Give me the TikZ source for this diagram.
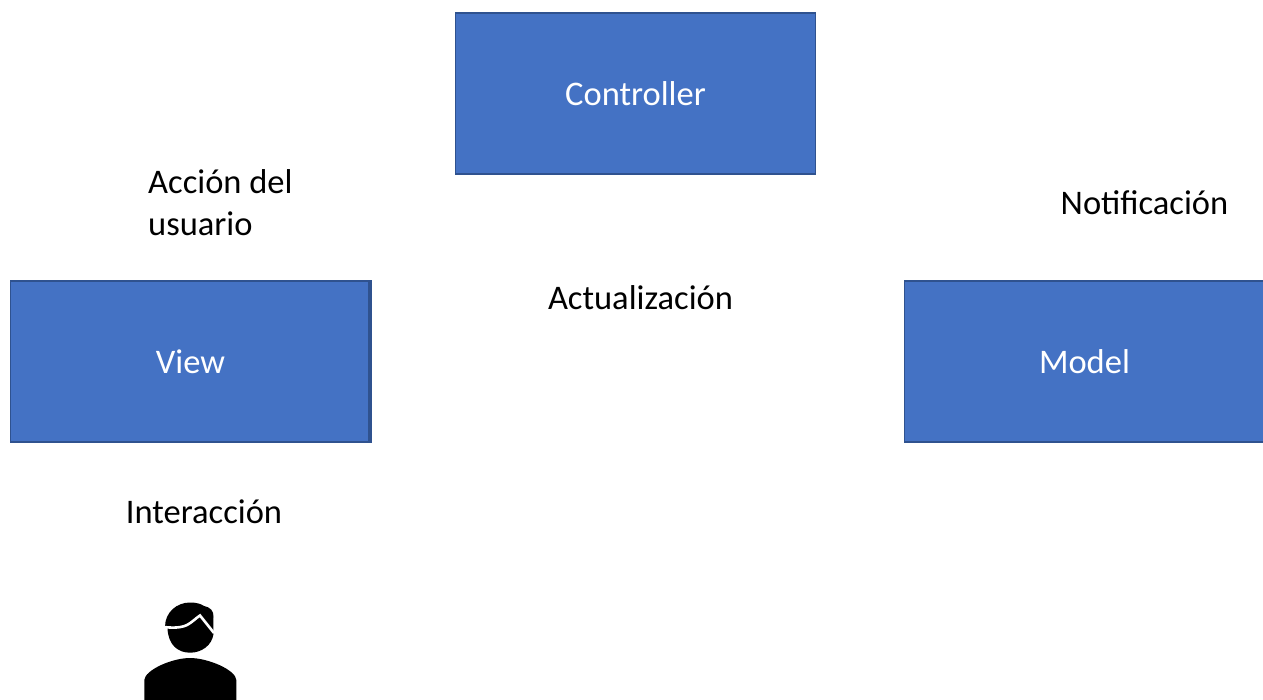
\documentclass[tikz,border=0pt]{standalone}
\usepackage{fontspec}
\setmainfont{Carlito}
\definecolor{boxfill}{HTML}{4472C4}
\definecolor{boxline}{HTML}{2F528F}
\tikzset{
  mvcbox/.style={draw=boxline, line width=1.3pt, fill=boxfill, text=white, minimum width=360pt, minimum height=161pt, inner sep=0pt, font=\fontsize{34.5}{42}\selectfont},
  lbl/.style={text=black, inner sep=0pt, font=\fontsize{34.5}{42}\selectfont, align=left}
}
\begin{document}
\begin{tikzpicture}[x=1pt,y=-1pt]
\useasboundingbox (0,0) rectangle (1263,700);
\clip (0,0) rectangle (1263,700);
\node[mvcbox] (controller) at (635.5,93.5) {\raisebox{-1pt}{Controller}};
\node[mvcbox] (view) at (190.5,361.5) {\raisebox{-1pt}{View}};
\node[mvcbox] (model) at (1084.5,361.5) {\raisebox{-1pt}{Model}};
\draw[boxline, line width=3.5pt] ([xshift=-1pt]view.north east) -- ([xshift=-1pt]view.south east);
\node[lbl, anchor=north west] (accion) at (148,169) {Acción del\\usuario};
\node[lbl] (notif) at (1144.5,203) {Notificación};
\node[lbl] (actual) at (640.5,298) {Actualización};
\node[lbl] (inter) at (204,512) {Interacción};
% person icon
\fill[black] (165,627) .. controls (165,612) and (177,602.5) .. (190,602.5)
  .. controls (197,602.5) and (201,604) .. (204,606)
  .. controls (210,607) and (214,611) .. (213.5,617)
  .. controls (213,622) and (213.5,628) .. (213.5,634)
  .. controls (212,645) and (202,652.7) .. (190,652.7)
  .. controls (178,652.7) and (168,645) .. (167.5,628) -- cycle;
\draw[white, line width=2.6pt] (164,627) .. controls (172,628) and (181,628) .. (187,625)
  .. controls (192,622.5) and (196,618) .. (200,615.5) -- (214,633);
\fill[black] (144.3,700) -- (144.3,680) .. controls (145,670) and (172,658) .. (190,658)
  .. controls (208,658) and (236,670) .. (236.3,680) -- (236.3,700) -- cycle;
\end{tikzpicture}
\end{document}
